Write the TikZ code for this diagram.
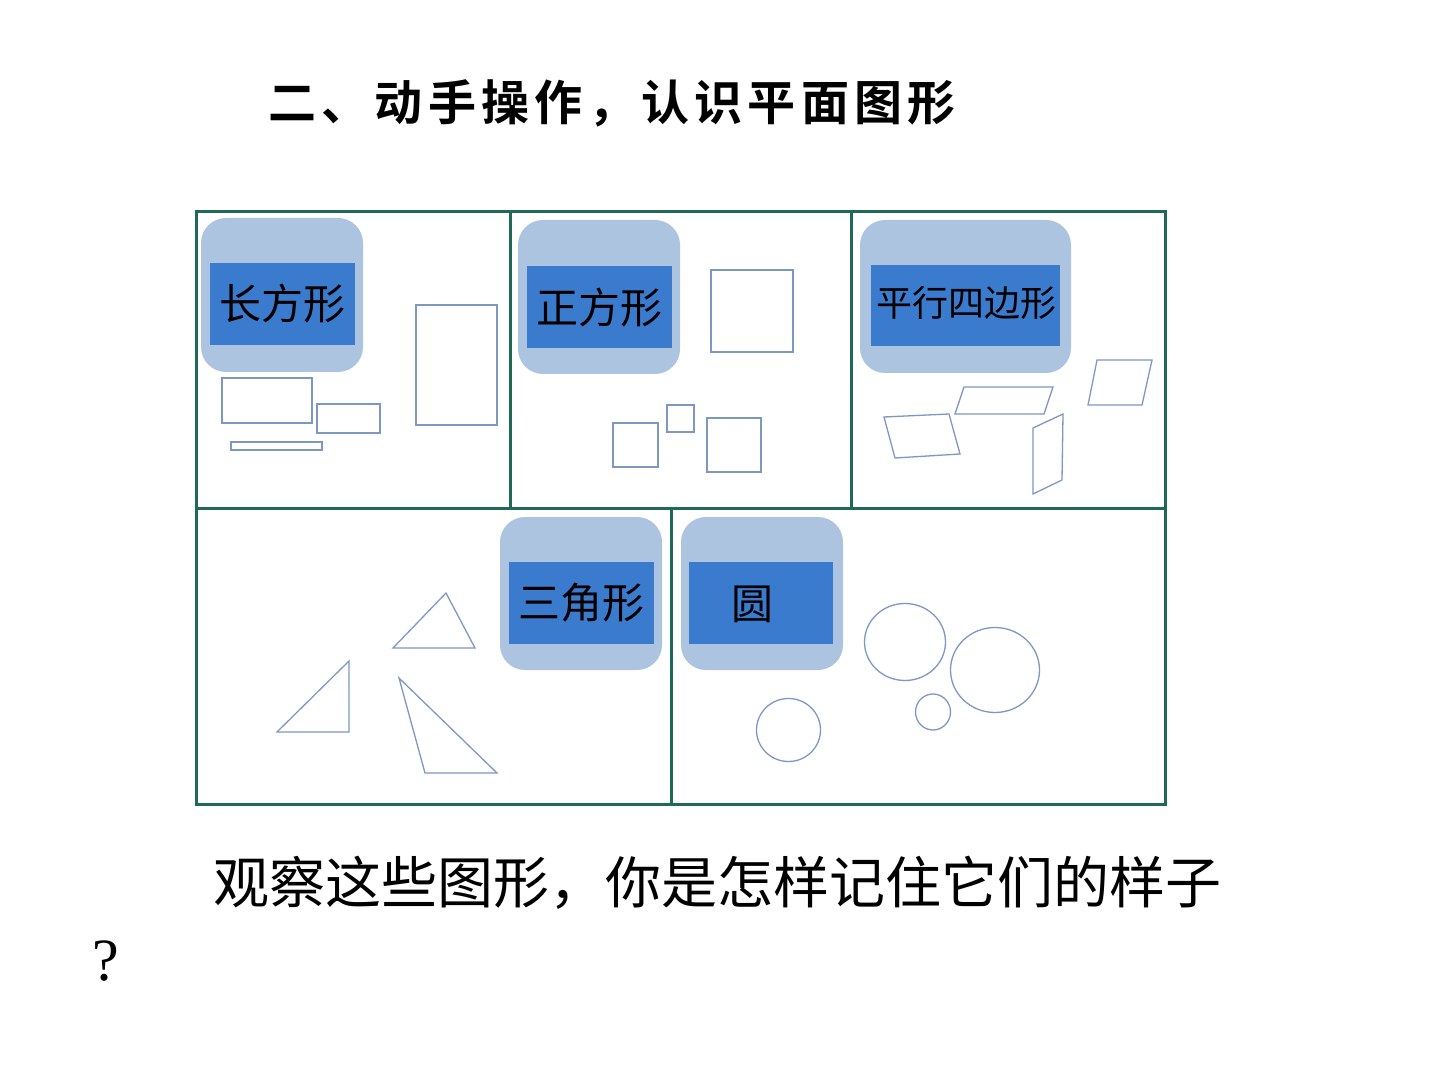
\documentclass[tikz,border=0pt]{standalone}
\usepackage{fontspec}
\setmainfont{Liberation Serif}
\newfontfamily\cjk{Noto Sans CJK SC}
\newfontfamily\cjkheavy[LetterSpace=11]{Noto Sans CJK SC Bold}
\definecolor{gridgreen}{HTML}{1E6A57}
\definecolor{tileblue}{HTML}{ADC4E0}
\definecolor{tagblue}{HTML}{3B7BCE}
\definecolor{penblue}{HTML}{7F98C3}

\begin{document}
\begin{tikzpicture}[x=0.5pt,y=-0.5pt,
  frame/.style={draw=gridgreen, line width=1.5pt},
  tile/.style={fill=tileblue, rounded corners=12.5pt},
  tag/.style={fill=tagblue},
  tagtext/.style={inner sep=0pt, font=\cjk\fontsize{21pt}{21pt}\selectfont},
  outline/.style={draw=penblue, line width=0.65pt}]
\useasboundingbox[fill=white] (0,0) rectangle (1440,1080);
% title
\node[inner sep=0pt, font=\cjkheavy\fontsize{24pt}{24pt}\selectfont] (title) at (612,103) {二、动手操作，认识平面图形};
% grid of five cells
\draw[frame] (196,212) rectangle (1165,804);
\draw[frame] (196,508) -- (1165,508);
\draw[frame] (510,212) -- (510,508);
\draw[frame] (851,212) -- (851,508);
\draw[frame] (671,508) -- (671,804);
% name tiles
\fill[tile] (201,218) rectangle (363,372);
\fill[tag] (210,263) rectangle (355,345);
\node[tagtext] (rectname) at (282,304) {长方形};
\fill[tile] (518,220) rectangle (680,374);
\fill[tag] (527,266) rectangle (672,348);
\node[tagtext] (squarename) at (599,308) {正方形};
\fill[tile] (860,220) rectangle (1071,373);
\fill[tag] (871,265) rectangle (1060,346);
\node[tagtext, font=\cjk\fontsize{18pt}{18pt}\selectfont] (paraname) at (966,303) {平行四边形};
\fill[tile] (500,517) rectangle (662,670);
\fill[tag] (509,562) rectangle (654,644);
\node[tagtext] (trianglename) at (581,603) {三角形};
\fill[tile] (681,517) rectangle (843,670);
\fill[tag] (689,562) rectangle (833,644);
\node[tagtext] (circlename) at (752,604) {圆};
% rectangles
\draw[outline] (222,378) rectangle (312,423);
\draw[outline] (317,404) rectangle (380,433);
\draw[outline] (231,442) rectangle (322,450);
\draw[outline] (416,305) rectangle (497,425);
% squares
\draw[outline] (711,270) rectangle (793,352);
\draw[outline] (613,423) rectangle (658,467);
\draw[outline] (667,405) rectangle (694,432);
\draw[outline] (707,418) rectangle (761,472);
% parallelograms
\draw[outline] (884,417) -- (949,414) -- (960,454) -- (895,458) -- cycle;
\draw[outline] (964,387) -- (1053,387) -- (1044,414) -- (955,414) -- cycle;
\draw[outline] (1033,428) -- (1063,414) -- (1062,480) -- (1033,494) -- cycle;
\draw[outline] (1097,360) -- (1152,360) -- (1142,405) -- (1088,405) -- cycle;
% triangles
\draw[outline] (446,593) -- (475,648) -- (393,648) -- cycle;
\draw[outline] (349,661) -- (349,732) -- (277,732) -- cycle;
\draw[outline] (399,678) -- (497,773) -- (425,773) -- cycle;
% circles
\draw[outline] (905,642) ellipse [x radius=40.5, y radius=38.5];
\draw[outline] (995,670) ellipse [x radius=44.5, y radius=42.5];
\draw[outline] (933,712) ellipse [x radius=17.5, y radius=18];
\draw[outline] (788.5,730) ellipse [x radius=32, y radius=31.5];
% question
\node[inner sep=0pt, anchor=west, font=\cjk\fontsize{28pt}{28pt}\selectfont] (question) at (213,883) {观察这些图形，你是怎样记住它们的样子};
\node[inner sep=0pt, font=\fontsize{30pt}{30pt}\selectfont] (qmark) at (106,961) {?};
\end{tikzpicture}
\end{document}
